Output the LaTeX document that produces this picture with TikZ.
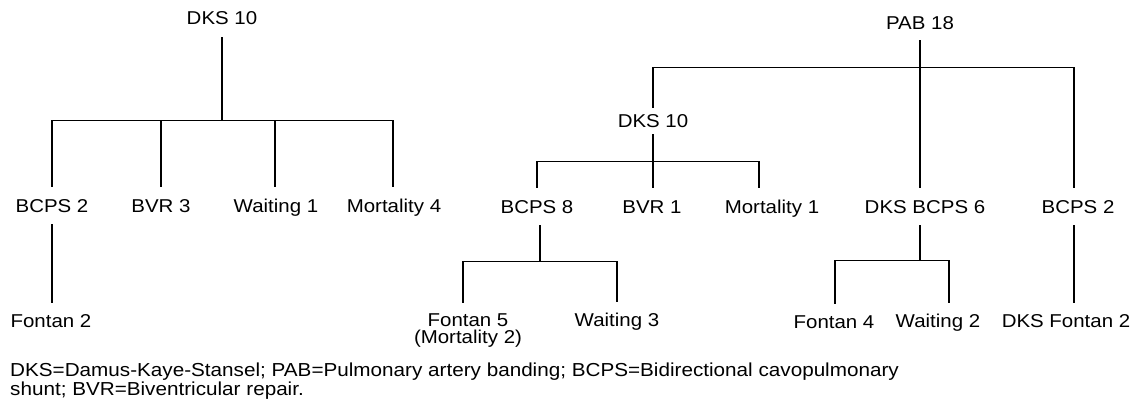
\documentclass[tikz,border=0pt]{standalone}
\usepackage{fontspec}
\newfontfamily\labfont[FakeStretch=1.1]{Liberation Sans}
\begin{document}
\begin{tikzpicture}[x=1pt,y=-1pt,
  labbase/.style={font={\labfont\fontsize{18.6}{17}\selectfont}, inner xsep=0pt, inner ysep=12pt},
  lab/.style={labbase, anchor=base, text height=13.3pt, text depth=0pt},
  captxt/.style={font={\labfont\fontsize{18.8}{19}\selectfont}, anchor=base west, inner sep=0pt},
  conn/.style={draw=black, line width=1.2pt}]
\useasboundingbox (0,0) rectangle (1140,409);
% left tree
\node[lab] (dksL) at (222,25) {DKS 10};
\node[lab] (bcpsL) at (52,212) {BCPS 2};
\node[lab] (bvrA) at (161,212) {BVR 3};
\node[lab] (waitA) at (276,212) {Waiting 1};
\node[lab] (mortA) at (394,212) {Mortality 4};
\node[lab, inner ysep=11pt] (fontA) at (51,327) {Fontan 2};
% right tree
\node[lab, inner ysep=10pt] (pab) at (920,30) {PAB 18};
\node[lab, inner ysep=6pt] (dksR) at (653,128) {DKS 10};
\node[lab] (bcpsB) at (537,213) {BCPS 8};
\node[lab] (bvrB) at (652,213) {BVR 1};
\node[lab] (mortB) at (772,213) {Mortality 1};
\node[lab] (dksbcps) at (925,213) {DKS BCPS 6};
\node[lab] (bcpsC) at (1078,213) {BCPS 2};
\node[labbase, align=center, anchor=north, inner ysep=11pt] (fontB) at (468,303) {Fontan 5\\(Mortality 2)};
\node[lab, inner ysep=11pt] (waitB) at (617,326) {Waiting 3};
\node[lab, inner ysep=11pt] (fontC) at (834,328) {Fontan 4};
\node[lab, inner ysep=11pt] (waitC) at (938,327) {Waiting 2};
\node[lab, inner ysep=11pt] (dksfont) at (1066,327) {DKS Fontan 2};
% caption
\node[captxt] (capA) at (10,376) {DKS=Damus-Kaye-Stansel; PAB=Pulmonary artery banding; BCPS=Bidirectional cavopulmonary};
\node[captxt] (capB) at (10,395) {shunt; BVR=Biventricular repair.};
% connectors left
\draw[conn] (dksL.south) -- ++(0,83) coordinate (jL);
\draw[conn] (jL) -| (bcpsL.north);
\draw[conn] (jL) -| (bvrA.north);
\draw[conn] (jL) -| ([xshift=-1pt]waitA.north);
\draw[conn] (jL) -| ([xshift=-1pt]mortA.north);
\draw[conn] (bcpsL.south) -- (bcpsL.south |- fontA.north);
% connectors right
\draw[conn] (pab.south) -- ([xshift=-5pt]dksbcps.north);
\path (pab.south) ++(0,27) coordinate (jP);
\draw[conn] (jP) -| (dksR.north);
\draw[conn] (jP) -| ([xshift=-4pt]bcpsC.north);
\draw[conn] (dksR.south) -- ([xshift=1pt]bvrB.north);
\path (dksR.south) ++(0,27) coordinate (jD);
\draw[conn] (jD) -| (bcpsB.north);
\draw[conn] (jD) -| ([xshift=-13pt]mortB.north);
\draw[conn] ([xshift=3pt]bcpsB.south) -- ++(0,36) coordinate (jB8);
\draw[conn] (jB8) -| ([xshift=-5pt]fontB.north);
\draw[conn] (jB8) -| (waitB.north);
\draw[conn] ([xshift=-5pt]dksbcps.south) -- ++(0,35) coordinate (jB6);
\draw[conn] (jB6) -| ([xshift=1pt]fontC.north);
\draw[conn] (jB6) -| ([xshift=11pt]waitC.north);
\draw[conn] ([xshift=-4pt]bcpsC.south) -- ([xshift=8pt]dksfont.north);
\end{tikzpicture}
\end{document}
